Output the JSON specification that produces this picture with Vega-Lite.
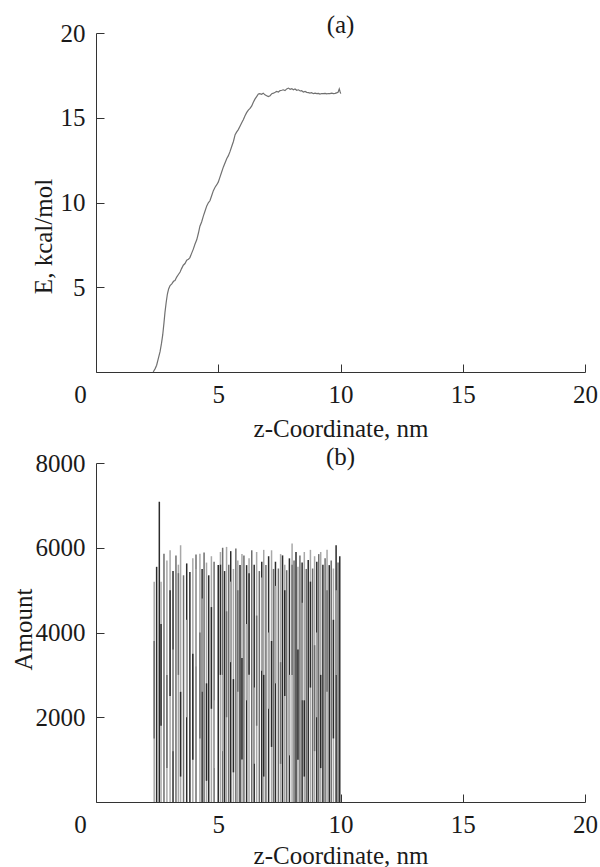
{
  "$schema": "https://vega.github.io/schema/vega-lite/v6.json",
  "padding": {"left": 11, "top": 13, "right": 2, "bottom": 2},
  "bounds": "flush",
  "spacing": 91,
  "datasets": {
    "energy": [
      {"z": 2.34, "E": 0.0}, {"z": 2.42, "E": 0.2}, {"z": 2.48, "E": 0.4}, {"z": 2.55, "E": 0.8}, {"z": 2.62, "E": 1.2},
      {"z": 2.68, "E": 1.7}, {"z": 2.73, "E": 2.2}, {"z": 2.78, "E": 2.9}, {"z": 2.82, "E": 3.5}, {"z": 2.87, "E": 4.1},
      {"z": 2.92, "E": 4.6}, {"z": 2.97, "E": 4.9}, {"z": 3.03, "E": 5.1}, {"z": 3.10, "E": 5.2}, {"z": 3.17, "E": 5.35},
      {"z": 3.23, "E": 5.4}, {"z": 3.30, "E": 5.6}, {"z": 3.37, "E": 5.75}, {"z": 3.44, "E": 5.9}, {"z": 3.50, "E": 6.1},
      {"z": 3.57, "E": 6.3}, {"z": 3.64, "E": 6.4}, {"z": 3.71, "E": 6.6}, {"z": 3.78, "E": 6.65}, {"z": 3.84, "E": 6.75},
      {"z": 3.91, "E": 7.0}, {"z": 3.98, "E": 7.25}, {"z": 4.05, "E": 7.55}, {"z": 4.12, "E": 7.8}, {"z": 4.19, "E": 8.2},
      {"z": 4.25, "E": 8.6}, {"z": 4.32, "E": 8.85}, {"z": 4.39, "E": 9.2}, {"z": 4.46, "E": 9.5}, {"z": 4.53, "E": 9.8},
      {"z": 4.60, "E": 10.0}, {"z": 4.66, "E": 10.1}, {"z": 4.73, "E": 10.4}, {"z": 4.80, "E": 10.7}, {"z": 4.87, "E": 10.9},
      {"z": 4.94, "E": 11.05}, {"z": 5.00, "E": 11.2}, {"z": 5.07, "E": 11.5}, {"z": 5.14, "E": 11.8}, {"z": 5.21, "E": 12.1},
      {"z": 5.28, "E": 12.35}, {"z": 5.35, "E": 12.6}, {"z": 5.41, "E": 12.75}, {"z": 5.48, "E": 13.0}, {"z": 5.55, "E": 13.3},
      {"z": 5.62, "E": 13.6}, {"z": 5.69, "E": 14.0}, {"z": 5.75, "E": 14.15}, {"z": 5.82, "E": 14.3}, {"z": 5.89, "E": 14.5},
      {"z": 5.96, "E": 14.7}, {"z": 6.03, "E": 14.9}, {"z": 6.09, "E": 15.1}, {"z": 6.16, "E": 15.3}, {"z": 6.23, "E": 15.45},
      {"z": 6.30, "E": 15.55}, {"z": 6.37, "E": 15.7}, {"z": 6.43, "E": 15.9}, {"z": 6.50, "E": 16.1}, {"z": 6.57, "E": 16.25},
      {"z": 6.64, "E": 16.4}, {"z": 6.70, "E": 16.42}, {"z": 6.77, "E": 16.38}, {"z": 6.84, "E": 16.45}, {"z": 6.91, "E": 16.35},
      {"z": 6.98, "E": 16.3}, {"z": 7.05, "E": 16.25}, {"z": 7.12, "E": 16.3}, {"z": 7.19, "E": 16.42}, {"z": 7.26, "E": 16.45},
      {"z": 7.33, "E": 16.5}, {"z": 7.39, "E": 16.55}, {"z": 7.46, "E": 16.52}, {"z": 7.53, "E": 16.6}, {"z": 7.60, "E": 16.62},
      {"z": 7.66, "E": 16.65}, {"z": 7.73, "E": 16.6}, {"z": 7.80, "E": 16.7}, {"z": 7.87, "E": 16.75}, {"z": 7.94, "E": 16.68},
      {"z": 8.01, "E": 16.72}, {"z": 8.07, "E": 16.65}, {"z": 8.14, "E": 16.7}, {"z": 8.21, "E": 16.62}, {"z": 8.28, "E": 16.65},
      {"z": 8.35, "E": 16.58}, {"z": 8.41, "E": 16.6}, {"z": 8.48, "E": 16.52}, {"z": 8.55, "E": 16.55}, {"z": 8.62, "E": 16.5},
      {"z": 8.69, "E": 16.48}, {"z": 8.75, "E": 16.45}, {"z": 8.82, "E": 16.48}, {"z": 8.89, "E": 16.42}, {"z": 8.96, "E": 16.45},
      {"z": 9.03, "E": 16.42}, {"z": 9.10, "E": 16.44}, {"z": 9.16, "E": 16.4}, {"z": 9.23, "E": 16.43}, {"z": 9.30, "E": 16.42},
      {"z": 9.37, "E": 16.44}, {"z": 9.44, "E": 16.41}, {"z": 9.50, "E": 16.43}, {"z": 9.57, "E": 16.42}, {"z": 9.64, "E": 16.45},
      {"z": 9.71, "E": 16.42}, {"z": 9.78, "E": 16.44}, {"z": 9.84, "E": 16.47}, {"z": 9.90, "E": 16.5}, {"z": 9.95, "E": 16.7},
      {"z": 9.98, "E": 16.55}, {"z": 10.01, "E": 16.42}
    ],
    "amount": [
      {"z": 2.38, "lo": 0, "hi": 5200, "s": "C"},
      {"z": 2.48, "lo": 0, "hi": 5550, "s": "A"}, {"z": 2.59, "lo": 0, "hi": 7087, "s": "A"}, {"z": 2.66, "lo": 0, "hi": 5200, "s": "C"},
      {"z": 2.78, "lo": 0, "hi": 5860, "s": "B"}, {"z": 2.90, "lo": 0, "hi": 5700, "s": "C"}, {"z": 3.03, "lo": 0, "hi": 5940, "s": "C"},
      {"z": 3.15, "lo": 0, "hi": 5450, "s": "A"}, {"z": 3.27, "lo": 0, "hi": 5820, "s": "B"}, {"z": 3.37, "lo": 0, "hi": 5600, "s": "C"},
      {"z": 3.46, "lo": 0, "hi": 6060, "s": "C"}, {"z": 3.58, "lo": 0, "hi": 5350, "s": "B"}, {"z": 3.71, "lo": 0, "hi": 5630, "s": "A"},
      {"z": 3.84, "lo": 0, "hi": 5430, "s": "A"}, {"z": 3.96, "lo": 0, "hi": 5750, "s": "C"}, {"z": 4.09, "lo": 0, "hi": 5840, "s": "B"},
      {"z": 4.25, "lo": 0, "hi": 5860, "s": "C"}, {"z": 4.34, "lo": 0, "hi": 5500, "s": "A"}, {"z": 4.42, "lo": 0, "hi": 5890, "s": "B"},
      {"z": 4.52, "lo": 0, "hi": 5650, "s": "C"}, {"z": 4.61, "lo": 0, "hi": 5350, "s": "A"}, {"z": 4.72, "lo": 0, "hi": 5800, "s": "C"},
      {"z": 4.83, "lo": 0, "hi": 5670, "s": "B"}, {"z": 5.00, "lo": 0, "hi": 5590, "s": "A"}, {"z": 5.09, "lo": 0, "hi": 5900, "s": "C"},
      {"z": 5.18, "lo": 0, "hi": 6000, "s": "B"}, {"z": 5.26, "lo": 0, "hi": 5450, "s": "A"}, {"z": 5.34, "lo": 0, "hi": 6020, "s": "C"},
      {"z": 5.43, "lo": 0, "hi": 5600, "s": "B"}, {"z": 5.51, "lo": 0, "hi": 5920, "s": "A"}, {"z": 5.62, "lo": 0, "hi": 5500, "s": "C"},
      {"z": 5.72, "lo": 0, "hi": 5980, "s": "B"}, {"z": 5.80, "lo": 0, "hi": 5700, "s": "C"}, {"z": 5.89, "lo": 0, "hi": 5590, "s": "A"},
      {"z": 5.97, "lo": 0, "hi": 5850, "s": "C"}, {"z": 6.05, "lo": 0, "hi": 5820, "s": "B"}, {"z": 6.16, "lo": 0, "hi": 5590, "s": "A"},
      {"z": 6.26, "lo": 0, "hi": 5750, "s": "C"}, {"z": 6.37, "lo": 0, "hi": 5940, "s": "B"}, {"z": 6.47, "lo": 0, "hi": 5600, "s": "A"},
      {"z": 6.57, "lo": 0, "hi": 5900, "s": "C"}, {"z": 6.68, "lo": 0, "hi": 5450, "s": "B"}, {"z": 6.78, "lo": 0, "hi": 5670, "s": "A"},
      {"z": 6.86, "lo": 0, "hi": 5950, "s": "C"}, {"z": 6.95, "lo": 0, "hi": 5590, "s": "B"}, {"z": 7.06, "lo": 0, "hi": 5800, "s": "A"},
      {"z": 7.18, "lo": 0, "hi": 5940, "s": "C"}, {"z": 7.26, "lo": 0, "hi": 5500, "s": "B"}, {"z": 7.34, "lo": 0, "hi": 5670, "s": "A"},
      {"z": 7.46, "lo": 0, "hi": 5510, "s": "B"}, {"z": 7.55, "lo": 0, "hi": 5850, "s": "C"}, {"z": 7.63, "lo": 0, "hi": 5820, "s": "A"},
      {"z": 7.72, "lo": 0, "hi": 5600, "s": "C"}, {"z": 7.80, "lo": 0, "hi": 5470, "s": "B"}, {"z": 7.91, "lo": 0, "hi": 5750, "s": "A"},
      {"z": 8.02, "lo": 0, "hi": 6100, "s": "C"}, {"z": 8.10, "lo": 0, "hi": 5700, "s": "B"}, {"z": 8.18, "lo": 0, "hi": 5900, "s": "A"},
      {"z": 8.26, "lo": 0, "hi": 5550, "s": "C"}, {"z": 8.34, "lo": 0, "hi": 5820, "s": "B"}, {"z": 8.43, "lo": 0, "hi": 5650, "s": "A"},
      {"z": 8.52, "lo": 0, "hi": 5900, "s": "C"}, {"z": 8.60, "lo": 0, "hi": 5500, "s": "B"}, {"z": 8.68, "lo": 0, "hi": 5710, "s": "A"},
      {"z": 8.77, "lo": 0, "hi": 5950, "s": "C"}, {"z": 8.86, "lo": 0, "hi": 5510, "s": "B"}, {"z": 8.94, "lo": 0, "hi": 5800, "s": "C"},
      {"z": 9.03, "lo": 0, "hi": 5670, "s": "A"}, {"z": 9.11, "lo": 0, "hi": 5850, "s": "B"}, {"z": 9.19, "lo": 0, "hi": 5900, "s": "C"},
      {"z": 9.28, "lo": 0, "hi": 5600, "s": "A"}, {"z": 9.37, "lo": 0, "hi": 5750, "s": "B"}, {"z": 9.45, "lo": 0, "hi": 5950, "s": "C"},
      {"z": 9.54, "lo": 0, "hi": 5590, "s": "A"}, {"z": 9.62, "lo": 0, "hi": 5700, "s": "B"}, {"z": 9.71, "lo": 0, "hi": 5510, "s": "C"},
      {"z": 9.82, "lo": 0, "hi": 6060, "s": "A"}, {"z": 9.90, "lo": 0, "hi": 5650, "s": "B"}, {"z": 9.97, "lo": 0, "hi": 5800, "s": "A"},
      {"z": 2.38, "lo": 1500, "hi": 3800, "s": "B"},
      {"z": 2.66, "lo": 1800, "hi": 4200, "s": "A"}, {"z": 2.90, "lo": 800, "hi": 3000, "s": "B"}, {"z": 3.03, "lo": 2500, "hi": 5000, "s": "A"},
      {"z": 3.15, "lo": 1200, "hi": 3600, "s": "C"}, {"z": 3.37, "lo": 3000, "hi": 5400, "s": "B"}, {"z": 3.46, "lo": 600, "hi": 2600, "s": "A"},
      {"z": 3.71, "lo": 2000, "hi": 4300, "s": "C"}, {"z": 3.96, "lo": 1000, "hi": 3500, "s": "A"}, {"z": 4.09, "lo": 3200, "hi": 5500, "s": "C"},
      {"z": 4.25, "lo": 1500, "hi": 4000, "s": "B"}, {"z": 4.34, "lo": 2600, "hi": 4800, "s": "C"}, {"z": 4.52, "lo": 500, "hi": 2800, "s": "A"},
      {"z": 4.72, "lo": 2200, "hi": 4600, "s": "A"}, {"z": 4.83, "lo": 800, "hi": 2400, "s": "C"}, {"z": 5.09, "lo": 3000, "hi": 5600, "s": "A"},
      {"z": 5.18, "lo": 1200, "hi": 3000, "s": "C"}, {"z": 5.34, "lo": 2000, "hi": 4500, "s": "B"}, {"z": 5.51, "lo": 3300, "hi": 5200, "s": "C"},
      {"z": 5.62, "lo": 700, "hi": 2900, "s": "A"}, {"z": 5.80, "lo": 2600, "hi": 5000, "s": "B"}, {"z": 5.97, "lo": 1000, "hi": 3400, "s": "A"},
      {"z": 6.16, "lo": 2400, "hi": 4200, "s": "C"}, {"z": 6.26, "lo": 3000, "hi": 5400, "s": "A"}, {"z": 6.47, "lo": 900, "hi": 2700, "s": "C"},
      {"z": 6.57, "lo": 1800, "hi": 4400, "s": "B"}, {"z": 6.78, "lo": 3100, "hi": 5300, "s": "C"}, {"z": 6.86, "lo": 600, "hi": 3000, "s": "A"},
      {"z": 7.06, "lo": 2200, "hi": 4000, "s": "C"}, {"z": 7.18, "lo": 1300, "hi": 3800, "s": "A"}, {"z": 7.34, "lo": 2800, "hi": 5100, "s": "C"},
      {"z": 7.55, "lo": 900, "hi": 3300, "s": "B"}, {"z": 7.72, "lo": 2500, "hi": 5000, "s": "A"}, {"z": 7.91, "lo": 1100, "hi": 3000, "s": "C"},
      {"z": 8.02, "lo": 3000, "hi": 5600, "s": "B"}, {"z": 8.26, "lo": 1000, "hi": 3600, "s": "A"}, {"z": 8.43, "lo": 2400, "hi": 4700, "s": "C"},
      {"z": 8.52, "lo": 600, "hi": 2400, "s": "A"}, {"z": 8.77, "lo": 2700, "hi": 5200, "s": "A"}, {"z": 8.94, "lo": 1200, "hi": 3700, "s": "B"},
      {"z": 9.03, "lo": 2000, "hi": 4000, "s": "C"}, {"z": 9.19, "lo": 800, "hi": 3000, "s": "A"}, {"z": 9.45, "lo": 2600, "hi": 5000, "s": "B"},
      {"z": 9.71, "lo": 1500, "hi": 4300, "s": "A"}, {"z": 9.82, "lo": 3000, "hi": 5000, "s": "C"}
    ]
  },
  "vconcat": [
    {
      "title": {"text": "(a)", "offset": -17},
      "width": 489,
      "height": 339,
      "data": {"name": "energy"},
      "mark": {"type": "line", "color": "#707070", "strokeWidth": 1.2},
      "encoding": {
        "x": {
          "field": "z", "type": "quantitative",
          "scale": {"domain": [0, 20], "nice": false},
          "axis": {
            "values": [0, 5, 10, 15, 20],
            "format": "d",
            "title": "z-Coordinate, nm",
            "titlePadding": 9,
            "labelOffset": {"condition": {"test": "datum.value === 0", "value": -16}, "value": 0}
          }
        },
        "y": {
          "field": "E", "type": "quantitative",
          "scale": {"domain": [0, 20], "nice": false},
          "axis": {
            "values": [5, 10, 15, 20],
            "format": "d",
            "title": "E, kcal/mol",
            "titleX": -40,
            "titleY": 203
          }
        }
      }
    },
    {
      "title": {"text": "(b)", "offset": -19},
      "width": 489,
      "height": 339,
      "data": {"name": "amount"},
      "mark": {"type": "rule", "strokeWidth": 1.5},
      "encoding": {
        "x": {
          "field": "z", "type": "quantitative",
          "scale": {"domain": [0, 20], "nice": false},
          "axis": {
            "values": [0, 5, 10, 15, 20],
            "format": "d",
            "title": "z-Coordinate, nm",
            "titlePadding": 6,
            "labelOffset": {"condition": {"test": "datum.value === 0", "value": -16}, "value": 0}
          }
        },
        "y": {
          "field": "hi", "type": "quantitative",
          "scale": {"domain": [0, 8000], "nice": false},
          "axis": {
            "values": [2000, 4000, 6000, 8000],
            "format": "d",
            "title": "Amount",
            "titleX": -60,
            "titleY": 166
          }
        },
        "y2": {"field": "lo"},
        "color": {
          "field": "s", "type": "nominal",
          "scale": {"domain": ["A", "B", "C"], "range": ["#2b2b2b", "#6e6e6e", "#a8a8a8"]},
          "legend": null
        }
      }
    }
  ],
  "config": {
    "font": "Liberation Serif",
    "background": "white",
    "view": {"stroke": null},
    "axis": {
      "labelFont": "Liberation Serif",
      "titleFont": "Liberation Serif",
      "labelFontSize": 25,
      "titleFontSize": 25,
      "titleFontWeight": "normal",
      "labelColor": "#1a1a1a",
      "titleColor": "#1a1a1a",
      "domainColor": "#333333",
      "tickColor": "#333333",
      "grid": false,
      "tickSize": -8,
      "labelFlush": false,
      "labelOverlap": false
    },
    "axisX": {"labelPadding": 18},
    "axisY": {"labelPadding": 19},
    "title": {
      "font": "Liberation Serif",
      "fontSize": 25,
      "fontWeight": "normal",
      "color": "#1a1a1a"
    }
  }
}
